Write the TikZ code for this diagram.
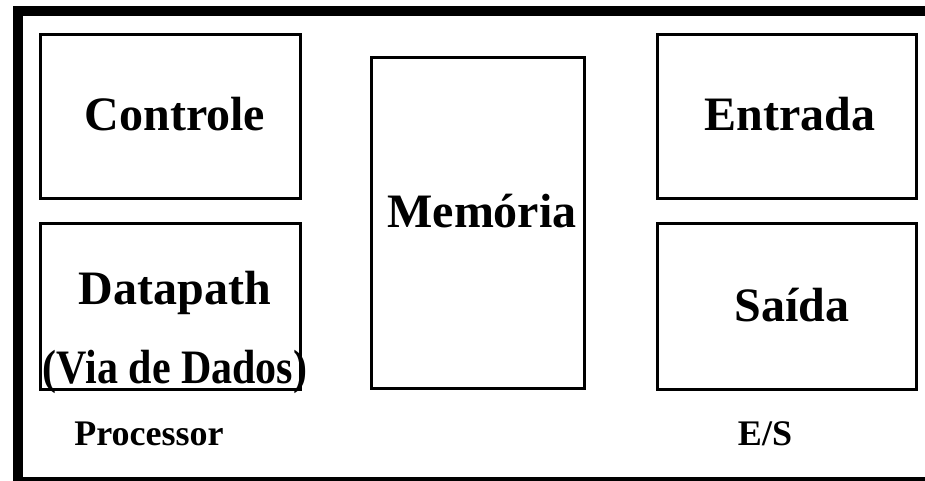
\documentclass[tikz,border=0pt]{standalone}
\usepackage{fontspec}
\setmainfont{Liberation Serif}
\newfontfamily\narrowserif[FakeStretch=0.875]{Liberation Serif}
\usetikzlibrary{positioning}
\tikzset{
  frame/.style    = {line width=10pt},
  unitbox/.style  = {draw, line width=3pt, rectangle, inner sep=0pt},
  unitname/.style = {anchor=base, font=\bfseries\fontsize{48}{52}\selectfont, inner sep=0pt},
  subname/.style  = {anchor=base, font=\narrowserif\bfseries\fontsize{48}{52}\selectfont, inner sep=0pt},
  groupname/.style= {anchor=base, font=\bfseries\fontsize{36}{40}\selectfont, inner sep=0pt},
}

\begin{document}
\begin{tikzpicture}[x=1pt,y=-1pt]
  \useasboundingbox (0,0) rectangle (925,480);
  \clip (0,0) rectangle (925,480);
  % outer frame, right and bottom run off the page
  \draw[frame] (18,11) rectangle (960,482);

  % processor
  \node[unitbox, minimum width=260pt, minimum height=164pt] (controle) at (170,116) {};
  \node[unitbox, minimum width=260pt, minimum height=166pt] (datapath) at (170,306) {};
  \node[unitname] (controle-txt) at (175,130) {Controle};
  \node[unitname] (datapath-txt) at (175,304) {Datapath};
  \node[subname]  (vdd-txt)      at (175,383) {(Via de Dados)};

  % memory
  \node[unitbox, minimum width=213pt, minimum height=331pt] (memoria) at (477.5,222.5) {};
  \node[unitname] (memoria-txt) at (482,227) {Memória};

  % input / output
  \node[unitbox, minimum width=259pt, minimum height=164pt] (entrada) at (786.5,116) {};
  \node[unitbox, minimum width=259pt, minimum height=166pt] (saida)   at (786.5,306) {};
  \node[unitname] (entrada-txt) at (790,130) {Entrada};
  \node[unitname] (saida-txt)   at (792,321) {Saída};

  \node[groupname] (proc-txt) at (149,445) {Processor};
  \node[groupname] (es-txt)   at (765,445) {E/S};
\end{tikzpicture}
\end{document}
